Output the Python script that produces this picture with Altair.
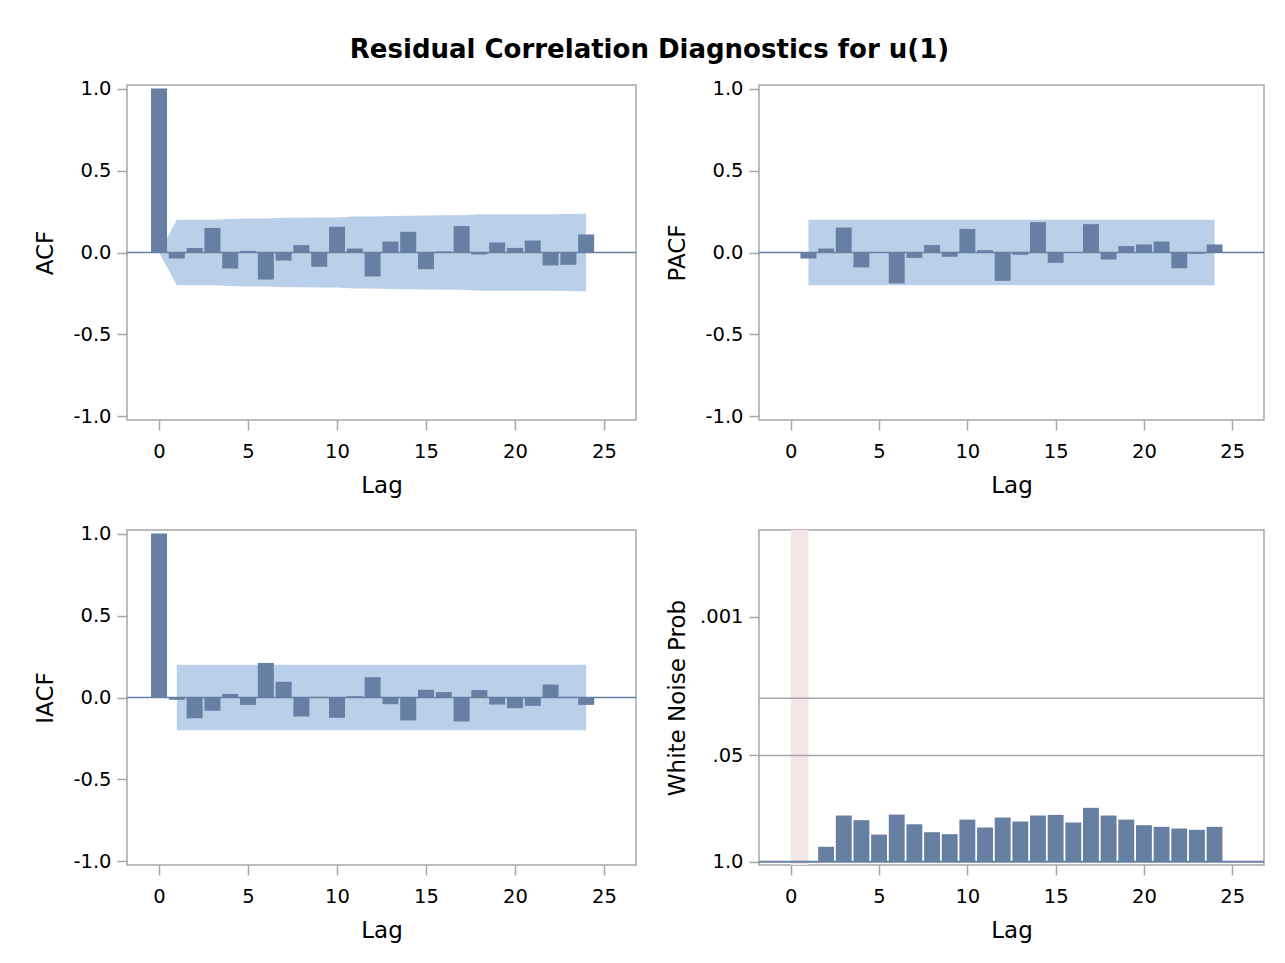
import math
import altair as alt
import pandas as pd

# ---------------- data ----------------
LAGS = list(range(25))
ACF = [1.0, -0.037, 0.028, 0.150, -0.098, 0.010, -0.165, -0.049, 0.045, -0.087,
       0.157, 0.024, -0.146, 0.067, 0.126, -0.102, 0.006, 0.161, -0.012, 0.061,
       0.028, 0.073, -0.079, -0.075, 0.110]
# two-standard-error band of the ACF, lags 0..24
ACF_LIMIT = [0.0, 0.200, 0.200, 0.200, 0.205, 0.207, 0.207, 0.212, 0.212, 0.213,
             0.214, 0.219, 0.219, 0.223, 0.224, 0.226, 0.228, 0.228, 0.233, 0.233,
             0.233, 0.234, 0.234, 0.235, 0.237]

PACF_LAGS = list(range(1, 25))
PACF = [-0.037, 0.024, 0.152, -0.091, -0.003, -0.189, -0.033, 0.045, -0.026, 0.144,
        0.014, -0.173, -0.014, 0.185, -0.063, 0.002, 0.173, -0.043, 0.039, 0.049,
        0.067, -0.096, -0.008, 0.049]
PACF_LIMIT = 0.2

IACF = [1.0, -0.014, -0.126, -0.081, 0.022, -0.045, 0.211, 0.096, -0.116, 0.004,
        -0.124, 0.008, 0.124, -0.041, -0.140, 0.047, 0.033, -0.146, 0.045, -0.043,
        -0.065, -0.051, 0.079, 0.004, -0.045]
IACF_LIMIT = 0.2

WN_LAGS = list(range(2, 25))
WN_PROB = [0.656, 0.272, 0.310, 0.465, 0.265, 0.348, 0.435, 0.460, 0.305, 0.381,
           0.288, 0.322, 0.272, 0.267, 0.331, 0.219, 0.272, 0.305, 0.357, 0.374,
           0.392, 0.407, 0.374]
WN_REF_P = [0.05, 0.01]
WN_TICK_P = [1.0, 0.05, 0.001]
WN_TICK_LABELS = ["1.0", ".05", ".001"]
WN_SHADE = [0, 1]

TITLE = "Residual Correlation Diagnostics for u(1)"
X_TICKS = [0, 5, 10, 15, 20, 25]
C_TICKS = [-1.0, -0.5, 0.0, 0.5, 1.0]

# ---------------- style ----------------
BAR = "#667fa2"
BAND = "#bacfe8"
FRAME = "#a4a7ab"
PINK = "#f1e7e4"
FONT = "DejaVu Sans"
XDOM = [-1.8, 26.8]
CDOM = [-1.022, 1.022]
WDOM = [-0.04, 4.06]
HALF = 0.45
H = 335
W_LEFT = 509
W_RIGHT = 505


def xscale():
    return alt.Scale(domain=XDOM, nice=False, zero=False)


def xaxis():
    return alt.Axis(values=X_TICKS, format="d", title="Lag")


def corr_yaxis(title):
    return alt.Axis(
        values=C_TICKS,
        labelExpr="datum.value < 0 ? '-' + format(-datum.value, '.1f') : format(datum.value, '.1f')",
        title=title,
    )


def corr_panel(lags, vals, band_df, band_kind, ytitle, width):
    ys = alt.Scale(domain=CDOM, nice=False, zero=False)
    df = pd.DataFrame({"lag": lags, "value": vals})
    if band_kind == "area":
        band = alt.Chart(band_df).transform_calculate(lower="-datum.limit").mark_area(
            color=BAND, opacity=1
        ).encode(
            x=alt.X("lag:Q", scale=xscale(), axis=xaxis(), title="Lag"),
            y=alt.Y("limit:Q", scale=ys, axis=corr_yaxis(ytitle), title=ytitle),
            y2="lower:Q",
        )
    else:
        band = alt.Chart(band_df).transform_calculate(lower="-datum.limit").mark_rect(
            color=BAND, opacity=1
        ).encode(
            x=alt.X("start:Q", scale=xscale(), axis=xaxis(), title="Lag"),
            x2="end:Q",
            y=alt.Y("limit:Q", scale=ys, axis=corr_yaxis(ytitle), title=ytitle),
            y2="lower:Q",
        )
    bars = alt.Chart(df).transform_calculate(
        x0=f"datum.lag - {HALF}", x1=f"datum.lag + {HALF}"
    ).mark_bar(color=BAR, opacity=1).encode(
        x=alt.X("x0:Q", scale=xscale(), axis=xaxis(), title="Lag"),
        x2="x1:Q",
        y=alt.Y("value:Q", scale=ys, axis=corr_yaxis(ytitle), title=ytitle),
        y2=alt.datum(0),
    )
    zero = alt.Chart(pd.DataFrame({"z": [0.0]})).mark_rule(
        color=BAR, strokeWidth=1.5
    ).encode(y=alt.Y("z:Q", scale=ys, axis=corr_yaxis(ytitle), title=ytitle))
    return alt.layer(band, bars, zero).properties(width=width, height=H)


acf_band = pd.DataFrame({"lag": LAGS, "limit": ACF_LIMIT})
pacf_band = pd.DataFrame({"start": [PACF_LAGS[0]], "end": [PACF_LAGS[-1]], "limit": [PACF_LIMIT]})
iacf_band = pd.DataFrame({"start": [1], "end": [LAGS[-1]], "limit": [IACF_LIMIT]})

acf_chart = corr_panel(LAGS, ACF, acf_band, "area", "ACF", W_LEFT)
pacf_chart = corr_panel(PACF_LAGS, PACF, pacf_band, "rect", "PACF", W_RIGHT)
iacf_chart = corr_panel(LAGS, IACF, iacf_band, "rect", "IACF", W_LEFT)

# ---------------- white noise panel ----------------
wn_ticks = [-math.log10(p) for p in WN_TICK_P]
label_expr = " : ".join(
    f"abs(datum.value - {t}) < 0.01 ? '{l}'" for t, l in zip(wn_ticks, WN_TICK_LABELS)
) + " : ''"
wn_yaxis = alt.Axis(values=wn_ticks, labelExpr=label_expr, title="White Noise Prob")
wys = alt.Scale(domain=WDOM, nice=False, zero=False)

shade = alt.Chart(pd.DataFrame({"a": [WN_SHADE[0]], "b": [WN_SHADE[1]]})).mark_rect(
    color=PINK, opacity=1
).encode(
    x=alt.X("a:Q", scale=xscale(), axis=xaxis(), title="Lag"),
    x2="b:Q",
)
refs = alt.Chart(pd.DataFrame({"p": WN_REF_P})).transform_calculate(
    nl="-log(datum.p) / LN10"
).mark_rule(color=FRAME, strokeWidth=1.5).encode(
    y=alt.Y("nl:Q", scale=wys, axis=wn_yaxis, title="White Noise Prob")
)
wn_bars = alt.Chart(pd.DataFrame({"lag": WN_LAGS, "p": WN_PROB})).transform_calculate(
    nl="-log(datum.p) / LN10", x0=f"datum.lag - {HALF}", x1=f"datum.lag + {HALF}"
).mark_bar(color=BAR, opacity=1).encode(
    x=alt.X("x0:Q", scale=xscale(), axis=xaxis(), title="Lag"),
    x2="x1:Q",
    y=alt.Y("nl:Q", scale=wys, axis=wn_yaxis, title="White Noise Prob"),
    y2=alt.datum(0),
)
base = alt.Chart(pd.DataFrame({"z": [0.0]})).mark_rule(color=BAR, strokeWidth=2).encode(
    y=alt.Y("z:Q", scale=wys, axis=wn_yaxis, title="White Noise Prob")
)
wn_chart = alt.layer(shade, refs, wn_bars, base).properties(width=W_RIGHT, height=H)

row1 = alt.hconcat(acf_chart, pacf_chart, spacing=27)
row2 = alt.hconcat(iacf_chart, wn_chart, spacing=27)

chart = alt.vconcat(row1, row2, spacing=23).properties(
    title=alt.TitleParams(TITLE, font=FONT, fontSize=26, fontWeight="bold",
                          anchor="middle", color="black", offset=15),
    padding={"left": 33, "top": 36, "right": 5, "bottom": 5},
).configure_view(
    stroke=FRAME, strokeWidth=1.5
).configure_axis(
    labelFont=FONT, labelFontSize=19.5, labelColor="black",
    titleFont=FONT, titleFontSize=23, titleFontWeight="normal", titleColor="black",
    tickColor=FRAME, tickWidth=1.5, tickSize=10, domain=False, grid=False,
).configure_axisY(
    minExtent=56, maxExtent=56, labelPadding=6, titlePadding=14
).configure_axisX(
    labelPadding=12, titlePadding=14
)

chart.save("out.html", embed_options={"renderer": "svg", "actions": False})
